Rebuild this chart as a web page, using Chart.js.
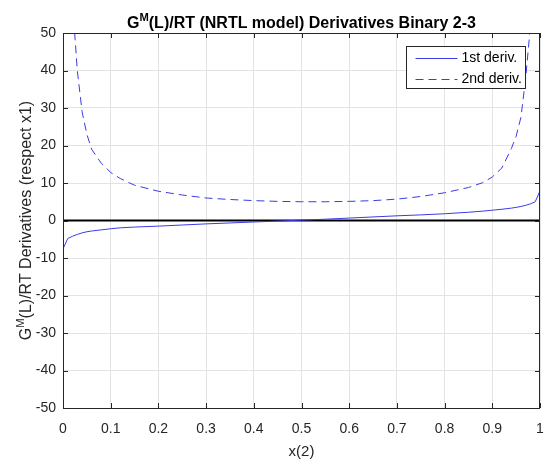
<!DOCTYPE html>
<html>
<head>
<meta charset="utf-8">
<script src="https://cdn.jsdelivr.net/npm/chart.js@4.4.1/dist/chart.umd.min.js"></script>
<style>html,body{margin:0;padding:0;background:#fff}</style>
</head>
<body>
<canvas id="chart" width="544" height="460"></canvas>
<script>
// mole fraction x(2) sampled along the curve
const xValues = [0.001, 0.01, 0.02, 0.03, 0.04, 0.05, 0.06, 0.08, 0.10, 0.12, 0.15, 0.20, 0.25,
  0.30, 0.35, 0.40, 0.45, 0.50, 0.55, 0.60, 0.65, 0.70, 0.75, 0.80, 0.85, 0.88, 0.90, 0.92,
  0.94, 0.95, 0.96, 0.97, 0.98, 0.99, 0.999];
const firstDeriv = [-7.3, -4.8, -4.2, -3.7, -3.3, -3.0, -2.8, -2.5, -2.2, -1.95, -1.75, -1.5, -1.2,
  -0.9, -0.65, -0.4, -0.15, 0.1, 0.35, 0.65, 0.95, 1.25, 1.5, 1.8, 2.2, 2.5, 2.75, 3.0,
  3.3, 3.5, 3.75, 4.05, 4.45, 5.0, 7.6];
const secondDeriv = [1000, 110, 58, 40, 29, 23, 19, 15.3, 12.8, 11.2, 9.4, 7.8, 6.8,
  6.0, 5.6, 5.3, 5.1, 5.0, 5.0, 5.1, 5.3, 5.7, 6.4, 7.4, 8.8, 10.1, 11.6, 14.0,
  19.2, 22.5, 27.5, 38, 52, 110, 1000];
const seriesLabels = ['1st deriv.', '2nd deriv.'];

const FONT = '"Liberation Sans", Arial, Helvetica, sans-serif';
const AXIS = '#262626';
const BLUE = '#3a3ae6';

// text with a superscript piece (G^M)
function drawRich(ctx, parts, size, weight) {
  let w = 0;
  parts.forEach(p => {
    ctx.font = `${weight} ${p.sup ? size * 0.7 : size}px ${FONT}`;
    p.w = ctx.measureText(p.t).width;
    w += p.w;
  });
  let x = -w / 2;
  ctx.textAlign = 'left';
  ctx.textBaseline = 'alphabetic';
  parts.forEach(p => {
    ctx.font = `${weight} ${p.sup ? size * 0.7 : size}px ${FONT}`;
    ctx.fillText(p.t, x, p.sup ? -size * 0.42 : 0);
    x += p.w;
  });
}

const decor = {
  id: 'decor',
  beforeDatasetsDraw(chart) {
    const { ctx, chartArea: a, scales: { y } } = chart;
    const y0 = y.getPixelForValue(0);
    ctx.save();
    ctx.strokeStyle = '#000';
    ctx.lineWidth = 2;
    ctx.beginPath();
    ctx.moveTo(a.left, y0);
    ctx.lineTo(a.right, y0);
    ctx.stroke();
    ctx.restore();
  },
  afterDraw(chart) {
    const { ctx, chartArea: a, scales: { x, y } } = chart;
    ctx.save();
    // box + inward ticks
    ctx.strokeStyle = AXIS;
    ctx.lineWidth = 1;
    ctx.strokeRect(Math.round(a.left) + 0.5, Math.round(a.top) + 0.5,
      Math.round(a.right - a.left) - 1, Math.round(a.bottom - a.top));
    ctx.beginPath();
    x.ticks.forEach(t => {
      const px = Math.round(x.getPixelForValue(t.value)) + 0.5;
      ctx.moveTo(px, a.bottom); ctx.lineTo(px, a.bottom - 5);
      ctx.moveTo(px, a.top); ctx.lineTo(px, a.top + 5);
    });
    y.ticks.forEach(t => {
      const py = Math.round(y.getPixelForValue(t.value)) + 0.5;
      ctx.moveTo(a.left, py); ctx.lineTo(a.left + 5, py);
      ctx.moveTo(a.right, py); ctx.lineTo(a.right - 5, py);
    });
    ctx.stroke();

    // legend
    const lx = 406.5, ly = 46.5, lw = 119, lh = 42;
    ctx.fillStyle = '#fff';
    ctx.fillRect(lx, ly, lw, lh);
    ctx.strokeStyle = '#262626';
    ctx.strokeRect(lx, ly, lw, lh);
    chart.data.datasets.forEach((ds, i) => {
      const ry = ly + 12 + i * 21;
      ctx.strokeStyle = ds.borderColor;
      ctx.lineWidth = 1;
      ctx.setLineDash(ds.borderDash || []);
      ctx.beginPath();
      ctx.moveTo(lx + 9, ry);
      ctx.lineTo(lx + 51, ry);
      ctx.stroke();
      ctx.setLineDash([]);
      ctx.fillStyle = '#000';
      ctx.font = `14px ${FONT}`;
      ctx.textAlign = 'left';
      ctx.textBaseline = 'middle';
      ctx.fillText(ds.label, lx + 55, ry);
    });

    // title
    ctx.fillStyle = '#000';
    ctx.save();
    ctx.translate((a.left + a.right) / 2, 27.5);
    drawRich(ctx, [{ t: 'G' }, { t: 'M', sup: true }, { t: '(L)/RT (NRTL model) Derivatives Binary 2-3' }], 16, 'bold');
    ctx.restore();

    // y label
    ctx.fillStyle = AXIS;
    ctx.save();
    ctx.translate(30.5, (a.top + a.bottom) / 2);
    ctx.rotate(-Math.PI / 2);
    drawRich(ctx, [{ t: 'G' }, { t: 'M', sup: true }, { t: '(L)/RT Derivatives (respect x1)' }], 16, 'normal');
    ctx.restore();

    // x label
    ctx.save();
    ctx.translate((a.left + a.right) / 2, 456);
    drawRich(ctx, [{ t: 'x(2)' }], 15, 'normal');
    ctx.restore();
    ctx.restore();
  }
};

const toPoints = ys => xValues.map((x, i) => ({ x: x, y: ys[i] }));

new Chart(document.getElementById('chart'), {
  type: 'line',
  data: {
    datasets: [
      { label: seriesLabels[0], data: toPoints(firstDeriv), borderColor: BLUE, borderWidth: 1,
        pointRadius: 0, tension: 0, fill: false },
      { label: seriesLabels[1], data: toPoints(secondDeriv), borderColor: BLUE, borderWidth: 1,
        borderDash: [8, 5], pointRadius: 0, tension: 0, fill: false }
    ]
  },
  options: {
    responsive: false,
    animation: false,
    layout: { padding: { top: 33, right: 4, left: 0, bottom: 0 } },
    plugins: { legend: { display: false }, title: { display: false }, tooltip: { enabled: false } },
    scales: {
      x: {
        type: 'linear', min: 0, max: 1,
        afterFit(s) { s.height = 52; s.paddingLeft = 0; s.paddingRight = 0; },
        ticks: { stepSize: 0.1, padding: 13, color: AXIS, font: { family: FONT, size: 14 },
          maxRotation: 0, autoSkip: false, callback: v => String(+v.toFixed(1)) },
        grid: { color: '#e3e3e3', drawTicks: false },
        border: { display: false }
      },
      y: {
        min: -50, max: 50,
        afterFit(s) { s.width = 63; s.paddingTop = 0; s.paddingBottom = 0; },
        ticks: { stepSize: 10, padding: 7, color: AXIS, font: { family: FONT, size: 14 } },
        grid: { color: '#e3e3e3', drawTicks: false },
        border: { display: false }
      }
    }
  },
  plugins: [decor]
});
</script>
</body>
</html>
